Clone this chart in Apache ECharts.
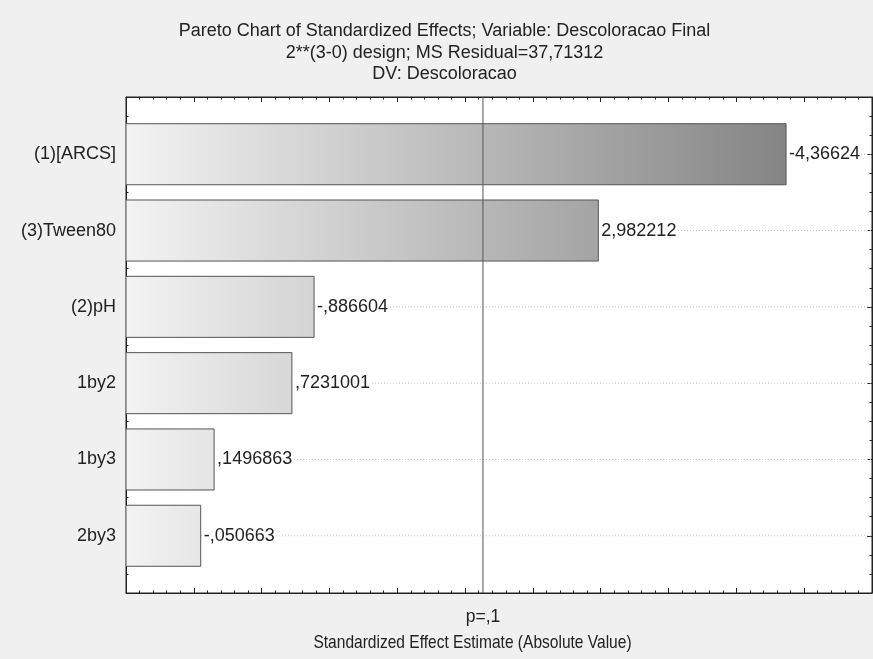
<!DOCTYPE html>
<html>
<head>
<meta charset="utf-8">
<script src="https://cdn.jsdelivr.net/npm/echarts@6/dist/echarts.min.js"></script>
<style>
  html, body { margin: 0; padding: 0; background: #f0f0f0; }
  #chart { width: 873px; height: 659px; }
</style>
</head>
<body>
<div id="chart"></div>
<script>
// Effects of the 2**(3-0) design, ordered by absolute size
const categories = ['(1)[ARCS]', '(3)Tween80', '(2)pH', '1by2', '1by3', '2by3'];
const effects = [-4.36624, 2.982212, -0.886604, 0.7231001, 0.1496863, -0.050663];
// Critical t value drawn as the reference line and its label
const pCritical = 2.1318;
const pLabel = 'p=,1';
const titleLines = [
  'Pareto Chart of Standardized Effects; Variable: Descoloracao Final',
  '2**(3-0) design; MS Residual=37,71312',
  'DV: Descoloracao'
];
const xName = 'Standardized Effect Estimate (Absolute Value)';

const X_MIN = -0.5, X_MAX = 5;
const Y_MIN = 0.25, Y_MAX = 6.75;
const BAR_BAND = 0.8;
const SANS = '"Liberation Sans", Arial, sans-serif';

// Statistica style number: comma decimal, no leading zero
function fmt(v) {
  return String(v).replace(/^(-?)0\./, '$1.').replace('.', ',');
}

const majorY = categories.map((_, i) => i + 1);
const minorY = [];
for (let q = 0.5; q < Y_MAX; q += 0.25) {
  if (Math.abs(q - Math.round(q)) > 1e-9) minorY.push(q);
}

const barData = effects.map((v, i) => [Math.abs(v), i + 1, v]);

const chart = echarts.init(document.getElementById('chart'), null, { renderer: 'canvas' });

function yAxisDef(position, ticks, len, withLabels, showLine) {
  return {
    type: 'value', position, min: Y_MIN, max: Y_MAX, inverse: true,
    axisLine: { show: showLine, onZero: false, lineStyle: { color: '#222', width: 1 } },
    axisTick: { show: true, inside: true, length: len, customValues: ticks, lineStyle: { color: '#222' } },
    axisLabel: withLabels ? {
      show: true, customValues: majorY, margin: 10,
      formatter: v => categories[Math.round(v) - 1] || '',
      fontFamily: SANS, fontSize: 18, color: '#222'
    } : { show: false },
    splitLine: { show: false }
  };
}

function xAxisDef(position, withLabel) {
  return {
    type: 'value', position, min: X_MIN, max: X_MAX, interval: 0.5,
    axisLine: { show: true, onZero: false, lineStyle: { color: '#222', width: 1 } },
    axisTick: { show: true, inside: true, length: 5, lineStyle: { color: '#222' } },
    minorTick: { show: true, splitNumber: 5, length: 2.5, lineStyle: { color: '#222' } },
    axisLabel: withLabel ? {
      show: true, customValues: [pCritical], margin: 15,
      formatter: () => pLabel, fontFamily: SANS, fontSize: 17.5, color: '#222'
    } : { show: false },
    splitLine: { show: false }, minorSplitLine: { show: false }
  };
}

chart.setOption({
  backgroundColor: '#f0f0f0',
  animation: false,
  title: [
    {
      text: titleLines.join('\n'), left: 439.5, top: 15.5, textAlign: 'center',
      textStyle: { fontFamily: SANS, fontSize: 18, lineHeight: 21.5, fontWeight: 'normal', color: '#222' }
    }
  ],
  // Axis title: condensed lettering obtained by squeezing the text horizontally
  graphic: [
    {
      type: 'text', x: 472.5, y: 643, scaleX: 0.84,
      style: {
        text: xName, fontFamily: SANS, fontSize: 18.5, fill: '#222',
        align: 'center', verticalAlign: 'middle'
      }
    }
  ],
  grid: {
    left: 126, top: 97, width: 746, height: 496,
    show: true, backgroundColor: '#ffffff', borderColor: '#222', borderWidth: 1,
    containLabel: false, outerBoundsMode: 'none'
  },
  xAxis: [xAxisDef('bottom', true), xAxisDef('top', false)],
  yAxis: [
    yAxisDef('left', majorY, 5, true, true),
    yAxisDef('left', minorY, 2.5, false, false),
    yAxisDef('right', majorY, 5, false, true),
    yAxisDef('right', minorY, 2.5, false, false)
  ],
  series: [
    {
      type: 'custom',
      xAxisIndex: 0, yAxisIndex: 0,
      data: barData,
      encode: { x: 0, y: 1 },
      clip: true,
      renderItem(params, api) {
        const v = api.value(0), c = api.value(1), raw = api.value(2);
        const start = api.coord([X_MIN, c]);
        const end = api.coord([v, c]);
        const far = api.coord([X_MAX, c]);
        const h = api.size([0, BAR_BAND])[1];
        const grad = new echarts.graphic.LinearGradient(start[0], 0, far[0], 0, [
          { offset: 0, color: '#f3f3f3' },
          { offset: 1, color: '#767676' }
        ], true);
        return {
          type: 'group',
          children: [
            {
              type: 'line',
              shape: { x1: start[0], y1: start[1], x2: far[0], y2: far[1] },
              style: { stroke: '#c4c4c4', lineWidth: 1, lineDash: [1, 2] }
            },
            {
              type: 'rect',
              shape: { x: start[0], y: start[1] - h / 2, width: end[0] - start[0], height: h },
              style: { fill: grad, stroke: '#555', lineWidth: 1 }
            },
            {
              type: 'text',
              x: end[0] + 2, y: end[1],
              style: {
                text: fmt(raw), fontFamily: SANS, fontSize: 18, fill: '#222',
                align: 'left', verticalAlign: 'middle',
                backgroundColor: '#ffffff', padding: [0, 1]
              }
            }
          ]
        };
      }
    },
    {
      type: 'custom',
      xAxisIndex: 0, yAxisIndex: 0,
      data: [[pCritical]],
      encode: { x: 0 },
      z: 5,
      renderItem(params, api) {
        const p = api.value(0);
        const a = api.coord([p, Y_MIN]);
        const b = api.coord([p, Y_MAX]);
        return {
          type: 'line',
          shape: { x1: a[0], y1: a[1], x2: b[0], y2: b[1] },
          style: { stroke: '#555', lineWidth: 1 }
        };
      }
    }
  ]
});
</script>
</body>
</html>
